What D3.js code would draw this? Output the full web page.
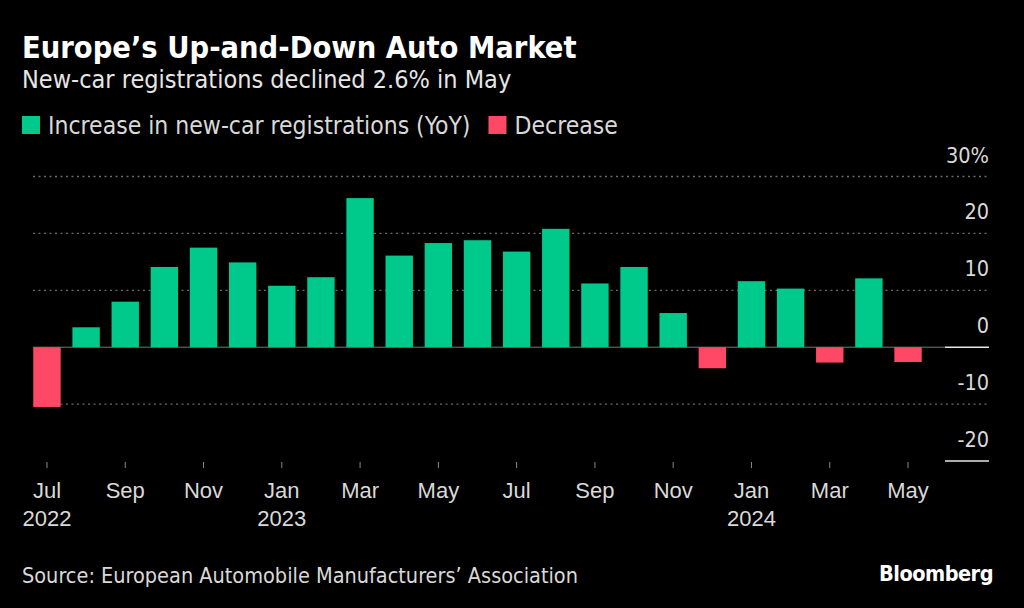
<!DOCTYPE html>
<html lang="en">
<head>
  <meta charset="UTF-8">
  <title>Europe's Up-and-Down Auto Market</title>
  <script src="https://cdn.jsdelivr.net/npm/d3@7.8.5/dist/d3.min.js"></script>
  <style>
    html, body { margin: 0; padding: 0; background: #000; }
    svg { display: block; font-family: "DejaVu Sans Condensed", "DejaVu Sans", sans-serif; font-stretch: condensed; }
  </style>
</head>
<body>
  <svg id="chart" width="1024" height="608"></svg>
  <script>
    // months and YoY change in new-car registrations (%)
    const months = ["2022-07", "2022-08", "2022-09", "2022-10", "2022-11", "2022-12",
      "2023-01", "2023-02", "2023-03", "2023-04", "2023-05", "2023-06",
      "2023-07", "2023-08", "2023-09", "2023-10", "2023-11", "2023-12",
      "2024-01", "2024-02", "2024-03", "2024-04", "2024-05"];
    const values = [-10.5, 3.5, 8.0, 14.1, 17.5, 14.9,
      10.8, 12.3, 26.2, 16.1, 18.3, 18.8,
      16.8, 20.8, 11.2, 14.1, 6.0, -3.7,
      11.6, 10.3, -2.7, 12.1, -2.6];
    const yTicks = [30, 20, 10, 0, -10, -20];
    const legendLabels = ["Increase in new-car registrations (YoY)", "Decrease"];

    const green = "#00c98c", red = "#ff4766";
    const parse = d3.timeParse("%Y-%m");
    const fmtMon = d3.timeFormat("%b");
    const data = months.map((m, i) => ({ month: m, date: parse(m), value: values[i] }));

    const svg = d3.select("#chart");
    svg.append("rect").attr("width", 1024).attr("height", 608).attr("fill", "#000");

    // titles
    svg.append("text").attr("x", 22).attr("y", 58)
      .attr("fill", "#fff").attr("font-size", 30.5).attr("font-weight", "bold")
      .text("Europe’s Up-and-Down Auto Market");
    svg.append("text").attr("x", 22).attr("y", 88)
      .attr("fill", "#e6e6e6").attr("font-size", 25)
      .text("New-car registrations declined 2.6% in May");

    // legend
    const leg = svg.append("g");
    let lx = 22;
    legendLabels.forEach((lab, i) => {
      leg.append("rect").attr("x", lx).attr("y", 116).attr("width", 18).attr("height", 18)
        .attr("fill", i === 0 ? green : red);
      const t = leg.append("text").attr("x", lx + 26).attr("y", 134)
        .attr("fill", "#d9d9d9").attr("font-size", 24.5).text(lab);
      lx += 26 + t.node().getComputedTextLength() + 18;
    });

    // scales
    const x = d3.scaleBand().domain(months).range([27.4, 927.6]).paddingInner(0.3).paddingOuter(0.15);
    const y = d3.scaleLinear().domain([-20, 30]).range([461, 176.5]);
    const gridX0 = 33, gridX1 = 989;

    // gridlines
    svg.append("g").selectAll("line")
      .data(yTicks.filter(d => d !== 0 && d !== -20))
      .join("line")
      .attr("x1", gridX0).attr("x2", gridX1)
      .attr("y1", d => y(d)).attr("y2", d => y(d))
      .attr("stroke", "#6b6b6b").attr("stroke-width", 1.3).attr("stroke-dasharray", "2,3.5");

    // y labels
    svg.append("g").selectAll("text")
      .data(yTicks)
      .join("text")
      .attr("x", gridX1).attr("y", d => y(d) - 14)
      .attr("text-anchor", "end")
      .attr("fill", "#d9d9d9").attr("font-size", 21.5)
      .text(d => d === 30 ? d + "%" : d);

    // zero line
    svg.append("line").attr("x1", gridX0).attr("x2", 945)
      .attr("y1", y(0)).attr("y2", y(0)).attr("stroke", "#777").attr("stroke-width", 1);
    [0, -20].forEach(v => {
      svg.append("line").attr("x1", 945).attr("x2", gridX1)
        .attr("y1", y(v)).attr("y2", y(v)).attr("stroke", "#e6e6e6").attr("stroke-width", 1.5);
    });

    // bars
    svg.append("g").selectAll("rect")
      .data(data)
      .join("rect")
      .attr("x", d => x(d.month))
      .attr("width", x.bandwidth())
      .attr("y", d => y(Math.max(0, d.value)))
      .attr("height", d => Math.abs(y(d.value) - y(0)))
      .attr("fill", d => d.value >= 0 ? green : red);

    // x axis
    const tickMonths = months.filter((m, i) => i % 2 === 0);
    const xAxis = d3.axisBottom(x).tickValues(tickMonths).tickSize(6).tickSizeOuter(0).tickPadding(14)
      .tickFormat(m => fmtMon(parse(m)));
    const gx = svg.append("g").attr("transform", "translate(0,462)").call(xAxis);
    gx.select(".domain").remove();
    gx.selectAll(".tick line").attr("stroke", "#888").attr("stroke-width", 1);
    gx.selectAll(".tick text")
      .attr("fill", "#d9d9d9").attr("font-size", 22).attr("font-family", null)
      .each(function (m, i) {
        const d = parse(m);
        if (i === 0 || d.getMonth() === 0) {
          d3.select(this).append("tspan").attr("x", 0).attr("dy", "1.27em").text(d.getFullYear());
        }
      });

    // footer
    svg.append("text").attr("x", 22).attr("y", 583)
      .attr("fill", "#d9d9d9").attr("font-size", 21.5)
      .text("Source: European Automobile Manufacturers’ Association");
    svg.append("text").attr("x", 993).attr("y", 581).attr("text-anchor", "end")
      .attr("fill", "#fff").attr("font-size", 21.5).attr("font-weight", "bold")
      .attr("letter-spacing", -0.5)
      .text("Bloomberg");
  </script>
</body>
</html>
